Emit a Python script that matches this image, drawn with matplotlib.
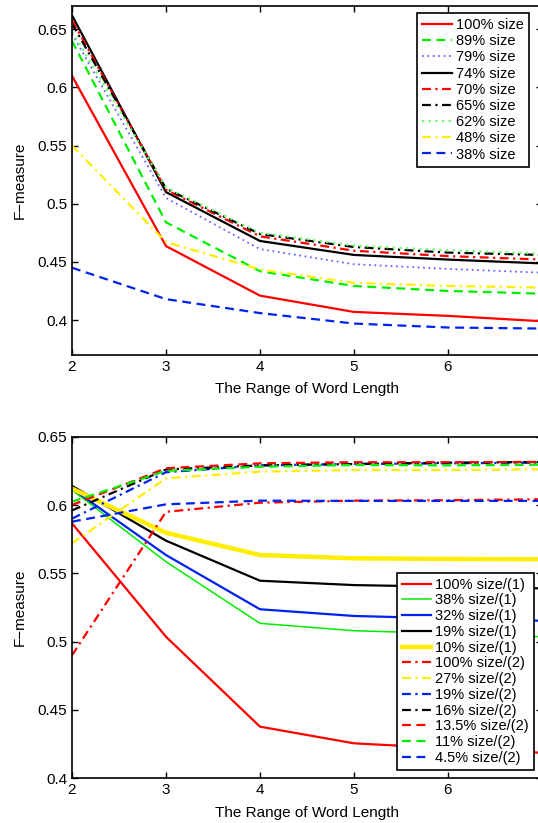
import numpy as np
import matplotlib
matplotlib.use("Agg")
import matplotlib.pyplot as plt

plt.rcParams['font.family'] = ['Liberation Sans', 'DejaVu Sans']

word_len = [2, 3, 4, 5, 6, 7]

# top panel: F-measure per training size
top_labels = ['100% size', '89% size', '79% size', '74% size', '70% size',
              '65% size', '62% size', '48% size', '38% size']
top_vals = [
    [0.610, 0.4636, 0.421, 0.407, 0.4036, 0.399],   # 100%
    [0.640, 0.484, 0.442, 0.4293, 0.425, 0.4227],   # 89%
    [0.646, 0.505, 0.461, 0.448, 0.444, 0.4407],    # 79%
    [0.662, 0.510, 0.468, 0.456, 0.452, 0.4487],    # 74%
    [0.658, 0.512, 0.472, 0.4596, 0.455, 0.452],    # 70%
    [0.655, 0.513, 0.474, 0.4628, 0.458, 0.456],    # 65%
    [0.648, 0.514, 0.475, 0.464, 0.460, 0.457],     # 62%
    [0.550, 0.467, 0.4435, 0.432, 0.4293, 0.428],   # 48%
    [0.445, 0.418, 0.406, 0.397, 0.3936, 0.3927],   # 38%
]
top_styles = [
    ('r', '-', 1.6), ('#00ee00', '--', 1.6), ('#6666ff', ':', 1.3),
    ('k', '-', 1.6), ('r', '-.', 1.6), ('k', '-.', 1.6),
    ('#66ff66', ':', 1.6), ('#ffee00', '-.', 1.6), ('#0022ee', '--', 1.6),
]

# bottom panel
bot_labels = ['100% size/(1)', '38% size/(1)', '32% size/(1)', '19% size/(1)',
              '10% size/(1)', '100% size/(2)', '27% size/(2)', '19% size/(2)',
              '16% size/(2)', '13.5% size/(2)', '11% size/(2)', '4.5% size/(2)']
bot_vals = [
    [0.5866, 0.5036, 0.4378, 0.4256, 0.422, 0.4187],
    [0.611, 0.5585, 0.5134, 0.508, 0.506, 0.5036],
    [0.612, 0.5634, 0.5237, 0.5188, 0.517, 0.5153],
    [0.614, 0.5739, 0.5446, 0.5414, 0.5402, 0.539],
    [0.612, 0.5797, 0.5634, 0.561, 0.5605, 0.5603],
    [0.490, 0.595, 0.6017, 0.6032, 0.6035, 0.6042],
    [0.572, 0.6195, 0.6244, 0.6256, 0.6256, 0.6261],
    [0.590, 0.624, 0.629, 0.630, 0.6305, 0.631],
    [0.596, 0.626, 0.629, 0.630, 0.631, 0.6315],
    [0.600, 0.6269, 0.6305, 0.6313, 0.6313, 0.6315],
    [0.6024, 0.625, 0.628, 0.6293, 0.629, 0.6295],
    [0.5878, 0.6005, 0.6032, 0.603, 0.603, 0.603],
]
bot_styles = [
    ('r', '-', 1.6), ('#00ee00', '-', 1.1), ('#0022ee', '-', 1.6),
    ('k', '-', 1.6), ('#ffee00', '-', 3.2), ('r', '-.', 1.6),
    ('#ffee00', '-.', 1.6), ('#0022ee', '-.', 1.6), ('k', '-.', 1.6),
    ('r', '--', 1.6), ('#00ee00', '--', 1.6), ('#0022ee', '--', 1.6),
]

fig = plt.figure(figsize=(5.38, 8.23), dpi=100)
ax1 = fig.add_axes([0.1338, 0.5687, 0.8736, 0.424])
ax2 = fig.add_axes([0.1338, 0.0543, 0.8736, 0.4151])


def dashes(ls):
    if ls == '--':
        return (4, 2.5)
    if ls == '-.':
        return (4, 2, 1, 2)
    if ls == ':':
        return (1, 2)
    return None


def draw(ax, vals, styles, labels):
    for v, (c, ls, lw), lab in zip(vals, styles, labels):
        line, = ax.plot(word_len, v, color=c, lw=lw, label=lab)
        d = dashes(ls)
        if d is not None:
            line.set_dashes(d)


draw(ax1, top_vals, top_styles, top_labels)
draw(ax2, bot_vals, bot_styles, bot_labels)

ax1.set_ylim(0.37, 0.67)
ax1.set_yticks([0.4, 0.45, 0.5, 0.55, 0.6, 0.65])
ax1.set_yticklabels(['0.4', '0.45', '0.5', '0.55', '0.6', '0.65'])
ax2.set_ylim(0.4, 0.65)
ax2.set_yticks([0.4, 0.45, 0.5, 0.55, 0.6, 0.65])
ax2.set_yticklabels(['0.4', '0.45', '0.5', '0.55', '0.6', '0.65'])

for ax in (ax1, ax2):
    ax.set_xlim(2, 7)
    ax.set_xticks([2, 3, 4, 5, 6])
    ax.tick_params(direction='in', top=True, right=True, labelsize=11,
                   length=4, width=1)
    for s in ax.spines.values():
        s.set_linewidth(1.2)
    ax.set_xlabel('The Range of Word Length', fontsize=11, labelpad=6)
    ax.set_ylabel('F\u2212measure', fontsize=11, labelpad=8)

leg_kw = dict(fontsize=10.5, fancybox=False, edgecolor='k', framealpha=1,
              borderaxespad=0, handletextpad=0.3,
              handlelength=2.0, borderpad=0.35, bbox_transform=fig.transFigure)
l1 = ax1.legend(loc='upper right', bbox_to_anchor=(529 / 538, 1 - 13 / 823),
                labelspacing=0.15, **leg_kw)
l2 = ax2.legend(loc='lower right', bbox_to_anchor=(534 / 538, 1 - 770 / 823),
                labelspacing=0.12, **leg_kw)
for lg in (l1, l2):
    lg.get_frame().set_linewidth(1.2)

fig.savefig('out.png', dpi=100)
